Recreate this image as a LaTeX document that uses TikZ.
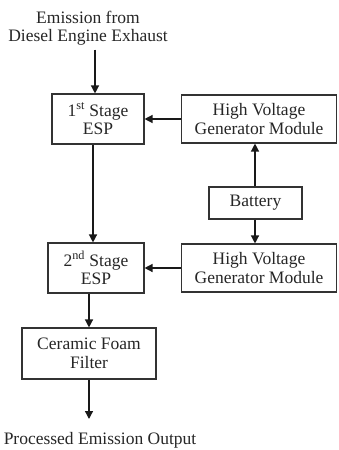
\documentclass[tikz,border=0pt]{standalone}
\usepackage{fontspec}
\setmainfont{Liberation Serif}
\usetikzlibrary{arrows.meta}
\begin{document}
\begin{tikzpicture}[x=1pt,y=-1pt,
  every node/.style={font=\fontsize{17.5}{18.5}\selectfont, align=center, inner sep=0pt, text=black!85},
  blk/.style={draw=black!80, line width=1.1pt},
  arr/.style={-{Triangle[length=8pt,width=8pt]}, line width=1.3pt, draw=black!90}]
\useasboundingbox (0,0) rectangle (338,450);
\node (src) at (88,28) {Emission from\\Diesel Engine Exhaust};
\node[blk, minimum width=92pt, minimum height=50pt] (esp1) at (98,119) {1\textsuperscript{st} Stage\\ESP};
\node[blk, minimum width=155pt, minimum height=48pt] (hv1) at (259,119) {High Voltage\\Generator Module};
\node[blk, minimum width=93pt, minimum height=32pt] (bat) at (255.5,203) {Battery};
\node[blk, minimum width=155pt, minimum height=48pt] (hv2) at (259,268) {High Voltage\\Generator Module};
\node[blk, minimum width=96pt, minimum height=50pt] (esp2) at (96,268) {2\textsuperscript{nd} Stage\\ESP};
\node[blk, minimum width=134pt, minimum height=51pt] (cer) at (89,353.5) {Ceramic Foam\\Filter};
\node (out) at (100,440) {Processed Emission Output};
\coordinate (xa) at (95,0);
\coordinate (xb) at (93,0);
\coordinate (xc) at (89,0);
\coordinate (xd) at (255,0);
\coordinate (oe) at (89,419);
\draw[arr] (src.south -| xa) ++(0,4) -- (esp1.north -| xa);
\draw[arr] (hv1.west) -- (esp1.east);
\draw[arr] (bat.north -| xd) -- (hv1.south -| xd);
\draw[arr] (bat.south -| xd) -- (hv2.north -| xd);
\draw[arr] (hv2.west) -- (esp2.east);
\draw[arr] (esp1.south -| xb) -- (esp2.north -| xb);
\draw[arr] (esp2.south -| xc) -- (cer.north -| xc);
\draw[arr] (cer.south -| xc) -- (oe);
\end{tikzpicture}
\end{document}
